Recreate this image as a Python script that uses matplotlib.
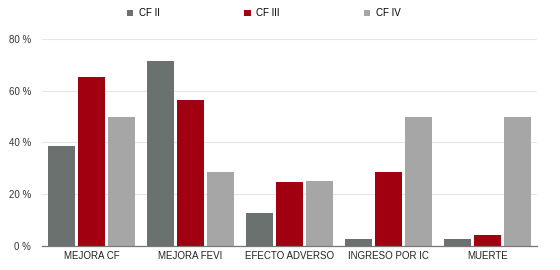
import matplotlib.pyplot as plt
import numpy as np

plt.rcParams['font.family'] = ['Liberation Sans', 'DejaVu Sans']

# Data
categories = ["MEJORA CF", "MEJORA FEVI", "EFECTO ADVERSO", "INGRESO POR IC", "MUERTE"]
series_names = ["CF II", "CF III", "CF IV"]
cf2 = [38.5, 71.5, 12.8, 2.7, 2.7]
cf3 = [65.4, 56.6, 24.6, 28.6, 4.3]
cf4 = [50.0, 28.6, 25.0, 50.0, 50.0]
colors = ["#6b716e", "#a0000f", "#a6a6a6"]
yticks = [0, 20, 40, 60, 80]

fig = plt.figure(figsize=(5.6, 2.7), dpi=100)
ax = fig.add_axes([0.075, 0.09, 0.884, 0.765])

x = np.arange(len(categories))
width = 0.28
offset = 0.303
for i, (vals, name, col) in enumerate(zip([cf2, cf3, cf4], series_names, colors)):
    ax.bar(x + (i - 1) * offset, vals, width, color=col, label=name, zorder=3)

ax.set_xlim(-0.5, len(categories) - 0.5)
ax.set_ylim(0, 80)
ax.set_yticks(yticks)
ax.set_yticklabels([f"{t} %" for t in yticks], fontsize=7, color="#333333")
ax.set_xticks(x)
ax.set_xticklabels(categories, fontsize=7, color="#222222")
ax.tick_params(axis="both", length=0, pad=4)
ax.tick_params(axis="y", pad=8)
ax.grid(axis="y", color="#e6e6e6", linewidth=0.8, zorder=0)

for side in ["top", "right", "left"]:
    ax.spines[side].set_visible(False)
ax.spines["bottom"].set_color("#777777")
ax.spines["bottom"].set_linewidth(0.9)
ax.spines["bottom"].set_zorder(4)

ax.legend(loc="center left", bbox_to_anchor=(0.171, 1.125), ncol=3,
          frameon=False, fontsize=7, handlelength=0.7, handleheight=0.7,
          handletextpad=0.6, columnspacing=8.6, borderaxespad=0, borderpad=0)

fig.savefig("out.png", dpi=100)
